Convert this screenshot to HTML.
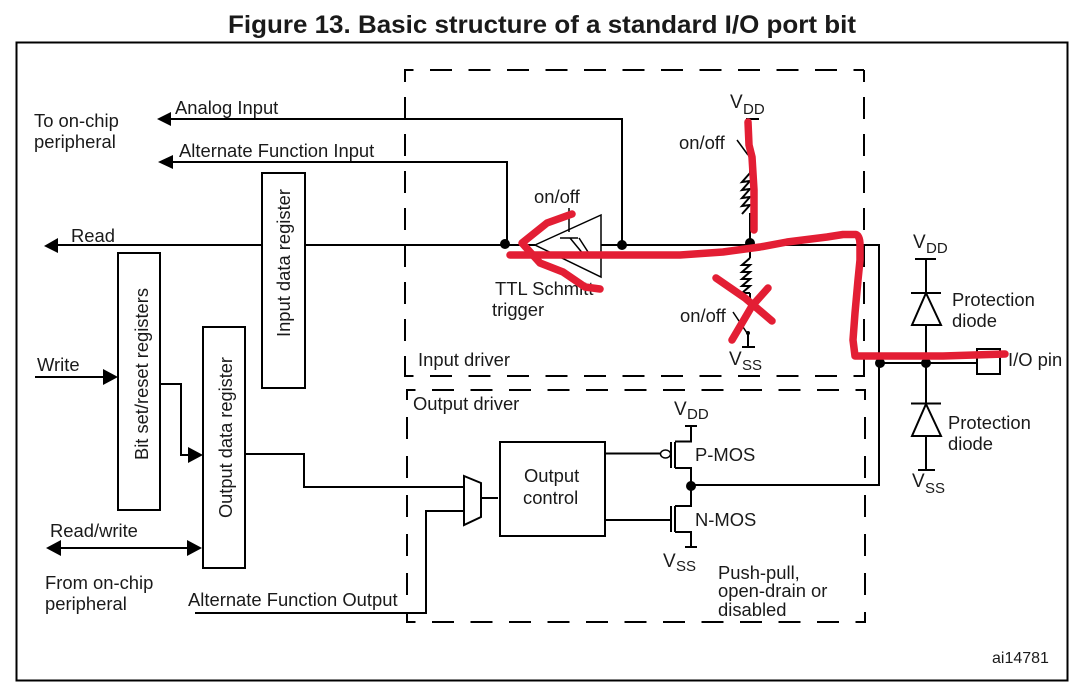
<!DOCTYPE html>
<html><head><meta charset="utf-8"><style>
html,body{margin:0;padding:0;background:#fff}
svg{display:block}
text{font-family:"Liberation Sans",sans-serif;font-size:18.4px;fill:#1a1a1a}
.v{font-size:19px}
.sub{font-size:15px}
.l{fill:none;stroke:#000;stroke-width:2}
.t{fill:none;stroke:#000;stroke-width:1.5}
.dh{fill:none;stroke:#000;stroke-width:2;stroke-dasharray:22 16.5;stroke-dashoffset:12.5}
.dv{fill:none;stroke:#000;stroke-width:2;stroke-dasharray:22 15;stroke-dashoffset:10}
.dv2{fill:none;stroke:#000;stroke-width:2;stroke-dasharray:22 17;stroke-dashoffset:12}
.r{fill:none;stroke:#e31e34;stroke-width:7.5;stroke-linecap:round;stroke-linejoin:round}
</style></head><body>
<svg width="1080" height="686" viewBox="0 0 1080 686" xmlns="http://www.w3.org/2000/svg">
<rect width="1080" height="686" fill="#fff"/>
<text x="228" y="33" style="font-size:25px;font-weight:bold" textLength="628" lengthAdjust="spacingAndGlyphs">Figure 13. Basic structure of a standard I/O port bit</text>
<rect x="16.5" y="42.5" width="1051" height="638" fill="none" stroke="#000" stroke-width="2"/>

<!-- dashed driver boxes -->
<path class="dh" d="M404 70H864"/>
<path class="dh" d="M404 376H864"/>
<path class="dv" d="M405 70V376"/>
<path class="dv" d="M864 70V377"/>
<path class="dh" d="M406 390H866"/>
<path class="dh" d="M406 622H866"/>
<path class="dv2" d="M407 390V623"/>
<path class="dv2" d="M865 390V623"/>

<!-- signal wires -->
<path class="l" d="M170 119H622V245"/>
<path class="l" d="M172 162H507V245"/>
<path class="l" d="M58 245H262M305 245H535M601 245H879V485H691"/>
<path class="l" d="M35 377H104"/>
<path class="l" d="M160 384H181V455H190"/>
<path class="l" d="M245 454H304V487H464"/>
<path class="l" d="M60 548H190"/>
<path class="l" d="M195 613H426V511H464"/>
<path class="l" d="M481 498H498"/>

<!-- arrowheads -->
<g fill="#000">
<path d="M157 119L171 112V126Z"/>
<path d="M158 162L173 155V169Z"/>
<path d="M44 246L58 238V253Z"/>
<path d="M118 377L103 369V385Z"/>
<path d="M203 455L188 447V463Z"/>
<path d="M46 548L61 540V556Z"/>
<path d="M202 548L187 540V556Z"/>
<circle cx="505" cy="244" r="5"/><circle cx="622" cy="245" r="5"/>
<circle cx="750" cy="243" r="5"/><circle cx="880" cy="363" r="5"/>
<circle cx="926" cy="363" r="5"/><circle cx="691" cy="486" r="5"/>
<circle cx="748" cy="333" r="2"/>
</g>

<!-- registers -->
<rect class="l" x="262" y="173" width="43" height="215"/>
<rect class="l" x="118" y="253" width="42" height="257"/>
<rect class="l" x="203" y="327" width="42" height="241"/>
<text transform="translate(290,337) rotate(-90)" textLength="148" lengthAdjust="spacingAndGlyphs">Input data register</text>
<text transform="translate(148,460) rotate(-90)" textLength="172" lengthAdjust="spacingAndGlyphs">Bit set/reset registers</text>
<text transform="translate(232,518) rotate(-90)" textLength="161" lengthAdjust="spacingAndGlyphs">Output data register</text>

<!-- Schmitt trigger -->
<path d="M535 245L601 215V277Z" fill="#fff" stroke="#000" stroke-width="1.500"/>
<path class="t" d="M569 208V232M560 238H578M570 238L584 255M579 238L590 255"/>

<!-- upper pull network -->
<path class="l" d="M746 119H759M750 119V150M750 155V173M750 213V243M750 243V258M750 293V312M748 333V347M742 347H755"/>
<path class="t" d="M737 140L748 155M733 312L747 333"/>
<path class="l" stroke-width="1.700" d="M750 173L742 182L750 181L742 190L750 189L742 198L750 197L742 206L750 205L742 214"/>
<path class="l" stroke-width="1.700" d="M750 258L742 265L750 265L742 272L750 272L742 279L750 279L742 286L750 286L742 293H750"/>

<!-- output stage -->
<rect class="l" x="500" y="442" width="105" height="94"/>
<path d="M464 476L481 483V517L464 525Z" fill="#fff" stroke="#000" stroke-width="2"/>
<path class="l" d="M605 453.500H661M605 520H671"/>
<ellipse cx="665.500" cy="454" rx="5" ry="4" fill="#fff" stroke="#000" stroke-width="1.500"/>
<path class="l" d="M671 442V468M671 506V532"/>
<path class="l" d="M675 441.500H691V426M685 426H697M675 468H691V506H675M675 532H691V547M685 547H697"/>
<path class="l" d="M675 442V468M675 506V532" stroke-width="1"/>

<!-- diodes and pin -->
<path class="l" d="M915 259H936M926 259V293M911 293H941M926 325V404M926 436V470M911 403.500H941M918 470H935M880 363H977"/>
<path d="M926 293L912 325H941Z" fill="#fff" stroke="#000" stroke-width="2"/>
<path d="M926 404L912 436H941Z" fill="#fff" stroke="#000" stroke-width="2"/>
<rect class="l" x="977" y="349" width="23" height="25"/>

<!-- labels -->
<text x="175" y="114">Analog Input</text>
<text x="179" y="157">Alternate Function Input</text>
<text x="34" y="127">To on-chip</text>
<text x="34" y="148">peripheral</text>
<text x="71" y="242">Read</text>
<text x="37" y="371">Write</text>
<text x="50" y="537">Read/write</text>
<text x="45" y="589">From on-chip</text>
<text x="45" y="610">peripheral</text>
<text x="188" y="606">Alternate Function Output</text>
<text x="534" y="203">on/off</text>
<text x="495" y="295">TTL Schmitt</text>
<text x="492" y="316">trigger</text>
<text x="418" y="366">Input driver</text>
<text x="413" y="410">Output driver</text>
<text x="679" y="149">on/off</text>
<text x="680" y="322">on/off</text>
<text class="v" x="730" y="108">V<tspan class="sub" x="743" y="114">DD</tspan></text>
<text class="v" x="729" y="365">V<tspan class="sub" x="742" y="370">SS</tspan></text>
<text class="v" x="913" y="248">V<tspan class="sub" x="926" y="253">DD</tspan></text>
<text class="v" x="912" y="487">V<tspan class="sub" x="925" y="493">SS</tspan></text>
<text class="v" x="674" y="415">V<tspan class="sub" x="687" y="419">DD</tspan></text>
<text class="v" x="663" y="567">V<tspan class="sub" x="676" y="571">SS</tspan></text>
<text x="952" y="306">Protection</text>
<text x="952" y="327">diode</text>
<text x="948" y="429">Protection</text>
<text x="948" y="450">diode</text>
<text x="1008" y="366">I/O pin</text>
<text x="524" y="482">Output</text>
<text x="523" y="504">control</text>
<text x="695" y="461">P-MOS</text>
<text x="695" y="526">N-MOS</text>
<text x="718" y="579">Push-pull,</text>
<text x="718" y="597">open-drain or</text>
<text x="718" y="616">disabled</text>
<text x="992" y="663" style="font-size:16px">ai14781</text>

<!-- red annotations -->
<path class="r" d="M572 214L547 223L522 243L540 263L563 272L585 287L600 289"/>
<path class="r" d="M510 255H680L723 252L760 247L787 242L827 237L843 234.500L856 234.500Q860 236 860 245L860 260L858 280L855 313L853 340L855 356L943 356L1005 354"/>
<path class="r" d="M748 122L749 145L752 157L754 190L754 230"/>
<path class="r" d="M716 278L745 298L772 321"/>
<path class="r" d="M768 288L752 306L732 340"/>
</svg>
</body></html>
